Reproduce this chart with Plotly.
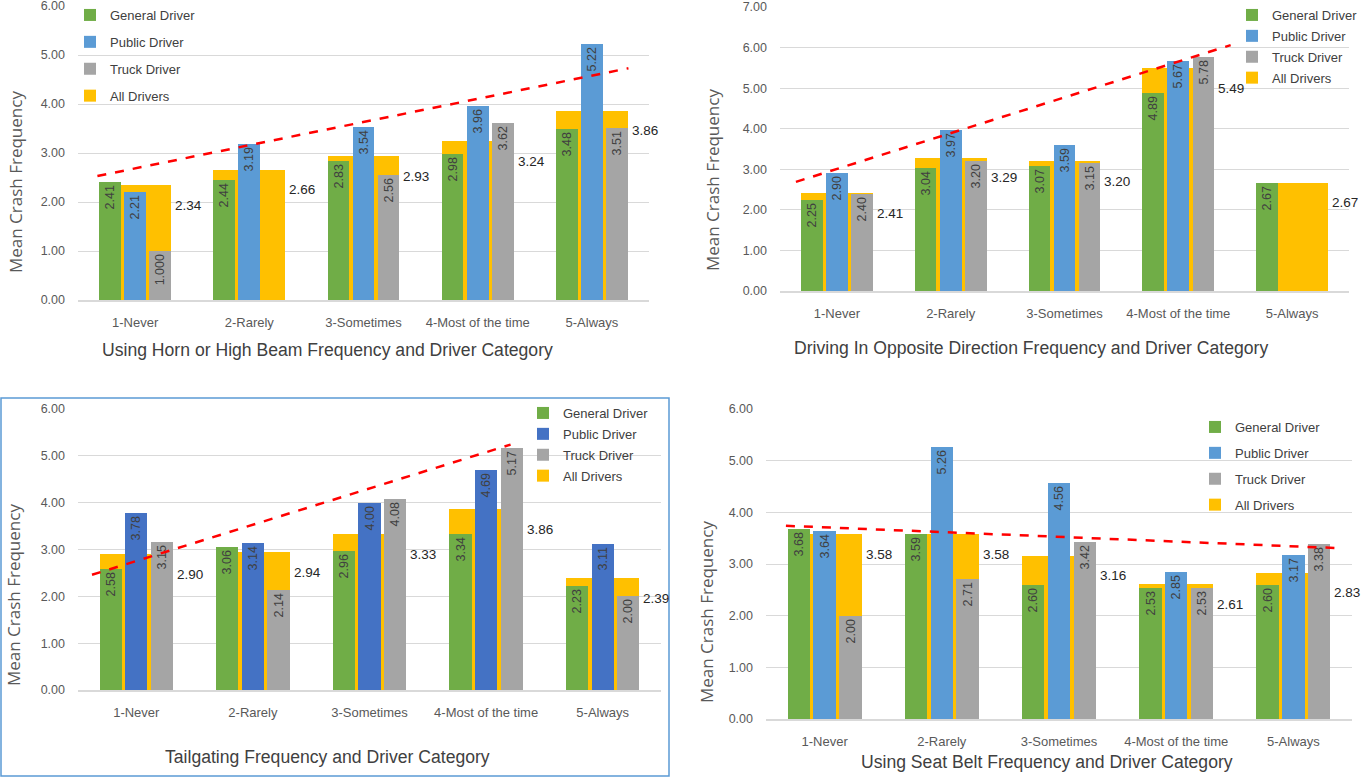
import plotly.graph_objects as go

W, H = 1361, 777

categories = ["1-Never", "2-Rarely", "3-Sometimes", "4-Most of the time", "5-Always"]

# Using horn or high beam
horn_general = [2.41, 2.44, 2.83, 2.98, 3.48]
horn_public = [2.21, 3.19, 3.54, 3.96, 5.22]
horn_truck = [1.000, None, 2.56, 3.62, 3.51]
horn_all = [2.34, 2.66, 2.93, 3.24, 3.86]
horn_trend = [2.53, 4.73]

# Driving in opposite direction
opp_general = [2.25, 3.04, 3.07, 4.89, 2.67]
opp_public = [2.90, 3.97, 3.59, 5.67, None]
opp_truck = [2.40, 3.20, 3.15, 5.78, None]
opp_all = [2.41, 3.29, 3.20, 5.49, 2.67]
opp_trend = [2.69, 6.06]

# Tailgating
tail_general = [2.58, 3.06, 2.96, 3.34, 2.23]
tail_public = [3.78, 3.14, 4.00, 4.69, 3.11]
tail_truck = [3.15, 2.14, 4.08, 5.17, 2.00]
tail_all = [2.90, 2.94, 3.33, 3.86, 2.39]
tail_trend = [2.46, 5.24]

# Using seat belt
belt_general = [3.68, 3.59, 2.60, 2.53, 2.60]
belt_public = [3.64, 5.26, 4.56, 2.85, 3.17]
belt_truck = [2.00, 2.71, 3.42, 2.53, 3.38]
belt_all = [3.58, 3.58, 3.16, 2.61, 2.83]
belt_trend = [3.74, 3.31]

GREEN = "#70AD47"
BLUE = "#5B9BD5"
DARK_BLUE = "#4472C4"
GRAY = "#A5A5A5"
YELLOW = "#FFC000"
FONT = "Liberation Sans, Arial, sans-serif"

# bar geometry inside a category slot
GROUP_W = 0.63
BAR_W = 0.19
GAP = (GROUP_W - 3 * BAR_W) / 2


def px_x(p):
    return p / W


def px_y(p):
    return 1 - p / H


def fmt(vals, digits=2):
    return ["" if v is None else f"{v:.{digits}f}" for v in vals]


# the 1.000 label in the horn chart was printed with three decimals
horn_truck_text = fmt(horn_truck[:1], 3) + fmt(horn_truck[1:])

panels = [
    dict(general=horn_general, public=horn_public, truck=horn_truck, all=horn_all,
         truck_text=horn_truck_text, trend=horn_trend, trend_x=[-0.33, 4.32],
         public_color=BLUE, ymax=6, box=(78, 649, 6, 300),
         title="Using Horn or High Beam Frequency and Driver Category", title_pos=(327, 350),
         ytitle=(15, 182), legend=dict(x=70, y=0, gap=7), cover=(78, 206, 0, 100)),
    dict(general=opp_general, public=opp_public, truck=opp_truck, all=opp_all,
         truck_text=fmt(opp_truck), trend=opp_trend, trend_x=[-0.36, 3.46],
         public_color=BLUE, ymax=7, box=(780, 1349, 7, 291),
         title="Driving In Opposite Direction Frequency and Driver Category", title_pos=(1031, 348),
         ytitle=(713, 180), legend=dict(x=1232, y=0, gap=1), cover=(1240, 1361, 0, 60)),
    dict(general=tail_general, public=tail_public, truck=tail_truck, all=tail_all,
         truck_text=fmt(tail_truck), trend=tail_trend, trend_x=[-0.38, 3.21],
         public_color=DARK_BLUE, ymax=6, box=(78, 661, 409, 690),
         title="Tailgating Frequency and Driver Category", title_pos=(327, 757),
         ytitle=(13, 595), legend=dict(x=523, y=398, gap=1), cover=(529, 661, 402, 480)),
    dict(general=belt_general, public=belt_public, truck=belt_truck, all=belt_all,
         truck_text=fmt(belt_truck), trend=belt_trend, trend_x=[-0.33, 4.35],
         public_color=BLUE, ymax=6, box=(766, 1352, 409, 719),
         title="Using Seat Belt Frequency and Driver Category", title_pos=(1047, 762),
         ytitle=(706, 612), legend=dict(x=1195, y=412, gap=6), cover=(1175, 1350, 420, 506)),
]

fig = go.Figure()
annotations = []
shapes = []

for i, p in enumerate(panels, start=1):
    xa = "x" if i == 1 else f"x{i}"
    ya = "y" if i == 1 else f"y{i}"
    leg = "legend" if i == 1 else f"legend{i}"
    x0, x1, y0, y1 = p["box"]

    # All Drivers: wide bar behind the three driver bars
    fig.add_trace(go.Bar(
        x=categories, y=p["all"], name="All Drivers", offset=-GROUP_W / 2, width=GROUP_W,
        marker=dict(color=YELLOW, line=dict(width=0)), xaxis=xa, yaxis=ya,
        legend=leg, legendgroup=f"all{i}", legendrank=4,
    ))
    series = [
        ("General Driver", p["general"], fmt(p["general"]), GREEN, 1),
        ("Public Driver", p["public"], fmt(p["public"]), p["public_color"], 2),
        ("Truck Driver", p["truck"], p["truck_text"], GRAY, 3),
    ]
    for k, (name, vals, txt, color, rank) in enumerate(series):
        fig.add_trace(go.Bar(
            x=categories, y=vals, name=name, text=txt,
            offset=-GROUP_W / 2 + k * (BAR_W + GAP), width=BAR_W,
            marker=dict(color=color, line=dict(width=0)),
            textposition="inside", insidetextanchor="end", textangle=-90,
            constraintext="none",
            textfont=dict(family=FONT, size=12.5, color="#404040"),
            xaxis=xa, yaxis=ya, legend=leg, legendgroup=f"{name}{i}", legendrank=rank,
        ))

    # All Drivers value labels to the right of each group
    for j, v in enumerate(p["all"]):
        annotations.append(dict(
            x=j + GROUP_W / 2, y=v, xref=xa, yref=ya, text=f"{v:.2f}",
            showarrow=False, xanchor="left", yanchor="middle", xshift=2, yshift=-20,
            font=dict(family=FONT, size=13.5, color="#262626"),
        ))

    # dashed trend line
    shapes.append(dict(
        type="line", xref=xa, yref=ya,
        x0=p["trend_x"][0], x1=p["trend_x"][1], y0=p["trend"][0], y1=p["trend"][1],
        line=dict(color="#FF0000", width=2.5, dash="dash"),
    ))

    # white patch where the legend sits over the gridlines
    cx0, cx1, cy0, cy1 = p["cover"]
    shapes.append(dict(
        type="rect", xref="paper", yref="paper", layer="between",
        x0=px_x(cx0), x1=px_x(cx1), y0=px_y(cy1), y1=px_y(cy0),
        fillcolor="white", line=dict(width=0),
    ))

    # axis titles
    annotations.append(dict(
        x=px_x(p["title_pos"][0]), y=px_y(p["title_pos"][1]), xref="paper", yref="paper",
        text=p["title"], showarrow=False, xanchor="center", yanchor="middle",
        font=dict(family=FONT, size=17.6, color="#404040"),
    ))
    annotations.append(dict(
        x=px_x(p["ytitle"][0]), y=px_y(p["ytitle"][1]), xref="paper", yref="paper",
        text="Mean Crash Frequency", showarrow=False, textangle=-90,
        xanchor="center", yanchor="middle",
        font=dict(family="Open Sans, sans-serif", size=17, color="#595959"),
    ))

    xkey = "xaxis" if i == 1 else f"xaxis{i}"
    ykey = "yaxis" if i == 1 else f"yaxis{i}"
    fig.update_layout({
        xkey: dict(
            domain=[px_x(x0), px_x(x1)], anchor=ya, type="category", automargin=False,
            range=[-0.5, 4.5], showgrid=False, showline=True, linecolor="#D9D9D9",
            linewidth=1.5, ticks="", ticklabelstandoff=10, ticklabeloverflow="allow",
            tickfont=dict(family=FONT, size=13, color="#595959"),
        ),
        ykey: dict(
            domain=[px_y(y1), px_y(y0)], anchor=xa, range=[0, p["ymax"]], dtick=1,
            automargin=False, tickformat=".2f", showgrid=True, gridcolor="#D9D9D9",
            gridwidth=1.2, zeroline=False, showline=False, ticks="", ticklabelstandoff=12,
            ticklabeloverflow="allow",
            tickfont=dict(family=FONT, size=12.5, color="#595959"),
        ),
        leg: dict(
            x=px_x(p["legend"]["x"]), y=px_y(p["legend"]["y"]), xanchor="left", yanchor="top",
            bgcolor="rgba(0,0,0,0)", traceorder="grouped", tracegroupgap=p["legend"]["gap"],
            itemwidth=30, font=dict(family=FONT, size=13, color="#404040"),
        ),
    })

# frame around the tailgating panel
shapes.append(dict(
    type="rect", xref="paper", yref="paper", x0=px_x(1), x1=px_x(669),
    y0=px_y(776), y1=px_y(398), line=dict(color="#5B9BD5", width=1.5),
))

fig.update_layout(
    width=W, height=H, barmode="overlay", bargap=0,
    margin=dict(l=0, r=0, t=0, b=0, autoexpand=False),
    paper_bgcolor="white", plot_bgcolor="white",
    font=dict(family=FONT, color="#404040"),
    annotations=annotations, shapes=shapes, showlegend=True,
)

fig.write_html("out.html", config={"displayModeBar": False},
               post_script="document.body.style.margin='0';")
